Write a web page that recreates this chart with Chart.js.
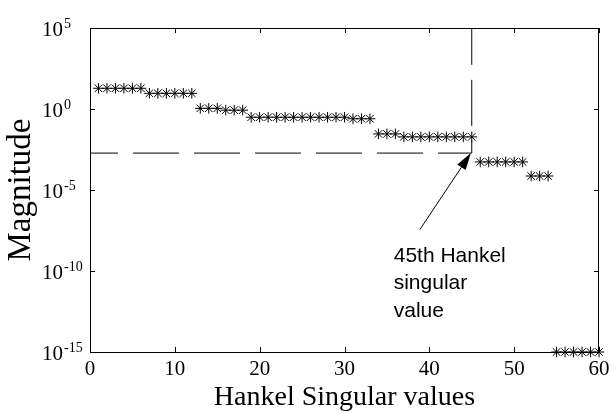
<!DOCTYPE html>
<html>
<head>
<meta charset="utf-8">
<script src="https://cdn.jsdelivr.net/npm/chart.js@4.4.1/dist/chart.umd.min.js"></script>
<style>
  html, body { margin: 0; padding: 0; background: #ffffff; }
  #wrap { width: 614px; height: 413px; position: relative; }
</style>
</head>
<body>
<div id="wrap"><canvas id="c" width="614" height="413"></canvas></div>
<script>
// ---- data ----
const categories = [1,2,3,4,5,6,7,8,9,10,11,12,13,14,15,16,17,18,19,20,
  21,22,23,24,25,26,27,28,29,30,31,32,33,34,35,36,37,38,39,40,
  41,42,43,44,45,46,47,48,49,50,51,52,53,54,55,56,57,58,59,60];
const hankelValues = [
  19, 19, 19, 19, 19, 19,
  9.3, 9.3, 9.3, 9.3, 9.3, 9.3,
  1.1, 1.1, 1.1, 0.85, 0.85, 0.85,
  0.31, 0.31, 0.31, 0.31, 0.31, 0.31, 0.31, 0.31, 0.31, 0.31, 0.31, 0.31,
  0.25, 0.25, 0.25,
  0.029, 0.029, 0.029,
  0.019, 0.019, 0.019, 0.019, 0.019, 0.019, 0.019, 0.019, 0.019,
  5.4e-4, 5.4e-4, 5.4e-4, 5.4e-4, 5.4e-4, 5.4e-4,
  7.3e-5, 7.3e-5, 7.3e-5,
  1e-15, 1e-15, 1e-15, 1e-15, 1e-15, 1e-15
];
const xTickValues = [0, 10, 20, 30, 40, 50, 60];
const yTickExponents = [5, 0, -5, -10, -15];
const cutIndex = 45;
const cutLevel = 1.9e-3;
const noteLines = ['45th Hankel', 'singular', 'value'];

// ---- derived ----
const points = categories.map((c, i) => ({ x: c, y: hankelValues[i] }));
const yMax = Math.pow(10, Math.max(...yTickExponents));
const yMin = Math.pow(10, Math.min(...yTickExponents));
const cutPath = [
  { x: 0, y: cutLevel },
  { x: cutIndex, y: cutLevel },
  { x: cutIndex, y: yMax }
];
const note = {
  textAt: { x: 35.8, y: Math.pow(10, -9.44) },
  tail: { x: 38.9, y: Math.pow(10, -7.43) },
  tip: { x: 44.9, y: cutLevel }
};

const SERIF = "'Liberation Serif', 'Times New Roman', serif";
const SANS = "'Liberation Sans', Arial, sans-serif";

const decorPlugin = {
  id: 'decor',
  afterDatasetsDraw(chart) {
    const { ctx, chartArea: a, scales: { x, y } } = chart;
    ctx.save();
    // box
    ctx.strokeStyle = '#000';
    ctx.lineWidth = 1;
    ctx.strokeRect(a.left + 0.5, a.top + 0.5, a.right - a.left - 1, a.bottom - a.top);
    // inward ticks
    const tl = 5;
    ctx.beginPath();
    xTickValues.forEach(v => {
      const px = Math.round(x.getPixelForValue(v)) + 0.5;
      ctx.moveTo(px, a.bottom); ctx.lineTo(px, a.bottom - tl);
      ctx.moveTo(px, a.top); ctx.lineTo(px, a.top + tl);
    });
    yTickExponents.forEach(e => {
      const py = Math.round(y.getPixelForValue(Math.pow(10, e))) + 0.5;
      ctx.moveTo(a.left, py); ctx.lineTo(a.left + tl, py);
      ctx.moveTo(a.right, py); ctx.lineTo(a.right - tl, py);
    });
    ctx.stroke();

    // y tick labels with superscript exponents
    ctx.fillStyle = '#000';
    ctx.textAlign = 'left';
    ctx.textBaseline = 'alphabetic';
    yTickExponents.forEach(e => {
      const py = y.getPixelForValue(Math.pow(10, e));
      const bx = 42;
      ctx.font = '21px ' + SERIF;
      ctx.fillText('10', bx, py + 8);
      const w = ctx.measureText('10').width;
      ctx.font = '14px ' + SERIF;
      ctx.fillText(e < 0 ? '-' + Math.abs(e) : String(e), bx + w + 1, py);
    });

    // arrow
    const tx = x.getPixelForValue(note.tail.x), ty = y.getPixelForValue(note.tail.y);
    const hx = x.getPixelForValue(note.tip.x), hy = y.getPixelForValue(note.tip.y);
    const dx = hx - tx, dy = hy - ty, len = Math.hypot(dx, dy);
    const ux = dx / len, uy = dy / len;
    const headLen = 17, headHalf = 5;
    const bxp = hx - ux * headLen, byp = hy - uy * headLen;
    ctx.beginPath();
    ctx.moveTo(tx, ty); ctx.lineTo(bxp, byp);
    ctx.stroke();
    ctx.beginPath();
    ctx.moveTo(hx, hy);
    ctx.lineTo(bxp - uy * headHalf, byp + ux * headHalf);
    ctx.lineTo(bxp + uy * headHalf, byp - ux * headHalf);
    ctx.closePath();
    ctx.fill();

    // note text
    ctx.font = '21px ' + SANS;
    const nx = x.getPixelForValue(note.textAt.x), ny = y.getPixelForValue(note.textAt.y);
    noteLines.forEach((t, i) => ctx.fillText(t, nx, ny + i * 27.5));
    ctx.restore();
  }
};

new Chart(document.getElementById('c'), {
  type: 'scatter',
  data: {
    datasets: [
      {
        label: 'Hankel singular values',
        data: points,
        showLine: false,
        pointStyle: 'star',
        pointRadius: 5.3,
        pointHoverRadius: 5.3,
        borderColor: '#000',
        backgroundColor: '#000',
        pointBorderWidth: 1,
        clip: false
      },
      {
        label: 'cut',
        data: cutPath,
        showLine: true,
        pointRadius: 0,
        borderColor: '#000',
        borderWidth: 1,
        borderDash: [46, 15],
        borderDashOffset: 18,
        fill: false,
        tension: 0,
        clip: false
      }
    ]
  },
  options: {
    responsive: false,
    devicePixelRatio: 1,
    animation: false,
    events: [],
    layout: { padding: { top: 28, right: 15, left: 0, bottom: 0 } },
    plugins: { legend: { display: false }, tooltip: { enabled: false } },
    scales: {
      x: {
        type: 'linear',
        position: 'bottom',
        min: 0, max: 60,
        afterBuildTicks: s => { s.ticks = xTickValues.map(v => ({ value: v })); },
        afterFit: s => { s.height = 61; },
        grid: { display: false },
        border: { display: false },
        ticks: {
          color: '#000',
          font: { family: SERIF, size: 21 },
          padding: -3,
          maxRotation: 0,
          callback: v => String(v)
        },
        title: {
          display: true,
          text: 'Hankel Singular values',
          color: '#000',
          font: { family: SERIF, size: 28, lineHeight: 1 },
          padding: { top: 0, bottom: 1 }
        }
      },
      y: {
        type: 'logarithmic',
        position: 'left',
        min: yMin, max: yMax,
        afterBuildTicks: s => { s.ticks = yTickExponents.map(e => ({ value: Math.pow(10, e) })); },
        afterFit: s => { s.width = 90; },
        grid: { display: false },
        border: { display: false },
        ticks: { display: false },
        title: {
          display: true,
          text: 'Magnitude',
          color: '#000',
          font: { family: SERIF, size: 33, lineHeight: 1 },
          padding: { top: 5, bottom: 0 }
        }
      }
    }
  },
  plugins: [decorPlugin]
});
</script>
</body>
</html>
